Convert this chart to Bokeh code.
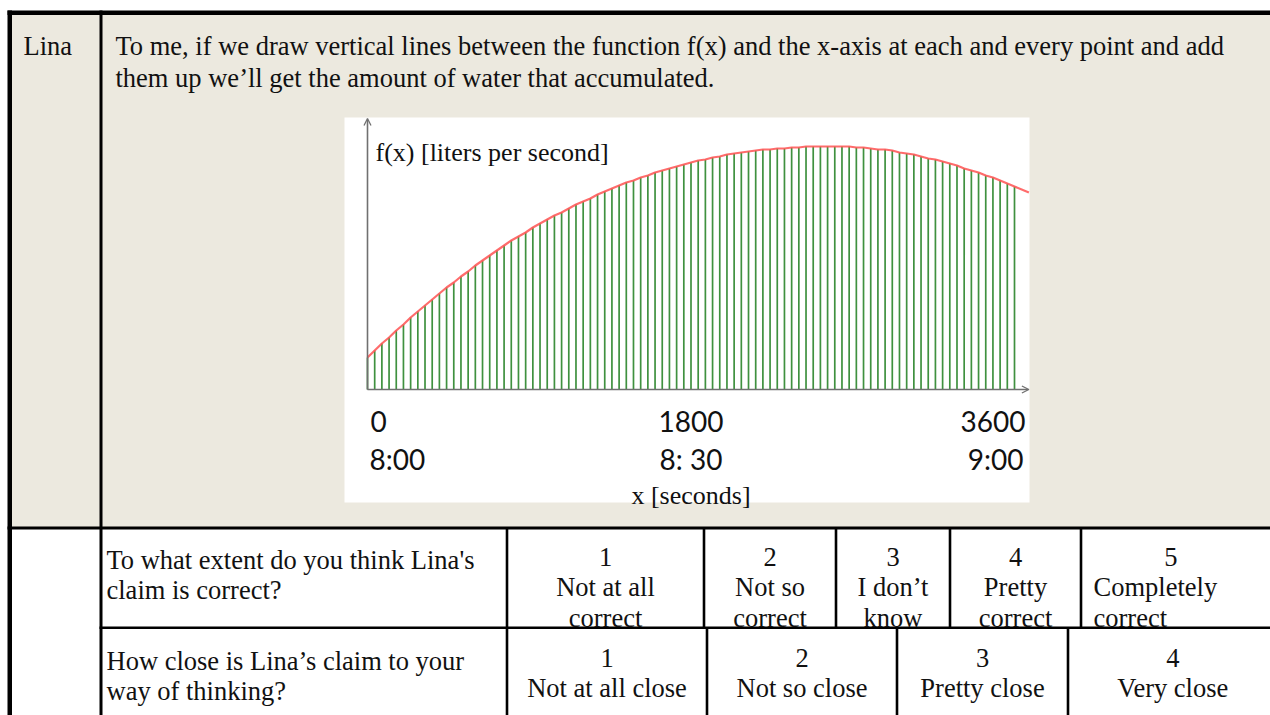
from bokeh.plotting import figure
from bokeh.models import Range1d, Arrow, OpenHead
from bokeh.core.properties import value
from bokeh.embed import file_html
from bokeh.resources import INLINE

# ---------------- data ----------------
sample_times = list(range(0, 3601, 40))          # one vertical line every 40 s
flow = [3.2, 3.9, 4.6, 5.2, 5.9, 6.5, 7.2, 7.8, 8.4, 9.0,
        9.6, 10.2, 10.7, 11.3, 11.8, 12.4, 12.9, 13.4, 13.9, 14.4,
        14.9, 15.3, 15.7, 16.2, 16.6, 17.0, 17.4, 17.7, 18.1, 18.5,
        18.8, 19.1, 19.5, 19.8, 20.1, 20.4, 20.7, 20.9, 21.2, 21.4,
        21.7, 21.9, 22.1, 22.3, 22.5, 22.7, 22.9, 23.0, 23.2, 23.3,
        23.5, 23.6, 23.7, 23.8, 23.9, 24.0, 24.0, 24.1, 24.1, 24.2,
        24.2, 24.3, 24.3, 24.3, 24.3, 24.3, 24.3, 24.3, 24.2, 24.2,
        24.1, 24.0, 24.0, 23.9, 23.7, 23.6, 23.5, 23.3, 23.1, 23.0,
        22.8, 22.6, 22.4, 22.1, 21.9, 21.7, 21.4, 21.2, 20.9, 20.6,
        20.3]
curve_times = sample_times + [3680]
curve_flow = flow + [19.7]

tick_values = [0, 1800, 3600]
tick_labels = ["0", "1800", "3600"]
clock_labels = ["8:00", "8: 30", "9:00"]
y_axis_label = "f(x) [liters per second]"
x_axis_label = "x [seconds]"

speaker = "Lina"
claim_lines = ["To me, if we draw vertical lines between the function f(x) and the x-axis at each and every point and add",
               "them up we\u2019ll get the amount of water that accumulated."]
q1_lines = ["To what extent do you think Lina's", "claim is correct?"]
q1_options = [["1", "Not at all", "correct"],
              ["2", "Not so", "correct"],
              ["3", "I don\u2019t", "know"],
              ["4", "Pretty", "correct"],
              ["5", "Completely", "correct"]]
q2_lines = ["How close is Lina\u2019s claim to your", "way of thinking?"]
q2_options = [["1", "Not at all close"],
              ["2", "Not so close"],
              ["3", "Pretty close"],
              ["4", "Very close"]]

# ---------------- layout (page pixels) ----------------
W, H = 1270, 715
SERIF = value("Liberation Serif")
SANS = value("Lato")
FS = "26.5px"
INK = "#111111"
BEIGE = "#ECE9DF"

p = figure(width=W, height=H, x_range=Range1d(0, W), y_range=Range1d(H, 0),
           output_backend="svg", toolbar_location=None, min_border=0,
           x_axis_location=None, y_axis_location=None, outline_line_color=None)
p.grid.visible = False
p.background_fill_color = "white"
p.border_fill_color = "white"

# chart scales
CH_X0, CH_X1, AXIS_Y, PX_PER_UNIT = 367, 1014, 389, 10.0
BOX = (344, 1029, 117, 502)
spp = 3600.0 / (CH_X1 - CH_X0)
p.extra_x_ranges = {"t": Range1d((0 - CH_X0) * spp, (W - CH_X0) * spp)}
p.extra_y_ranges = {"f": Range1d((AXIS_Y - H) / PX_PER_UNIT, AXIS_Y / PX_PER_UNIT)}

# backgrounds
p.quad(left=[11], right=[W], top=[13], bottom=[527], fill_color=BEIGE, line_color=None)
p.quad(left=[BOX[0]], right=[BOX[1]], top=[BOX[2]], bottom=[BOX[3]], fill_color="white", line_color=None)

# table borders
row1_div = [506.5, 703.5, 835.5, 949.5, 1080.5]
row2_div = [506.5, 706.5, 896.5, 1067.5]
L, R, T, B = [], [], [], []
def rect(l, r, t, b):
    L.append(l); R.append(r); T.append(t); B.append(b)
rect(7, W, 10, 14.5)                  # top border
rect(7, 11.5, 10, H)                  # left border
rect(99, 102, 10, H)                  # first column separator
rect(7, W, 526, 529)                  # bottom of claim row
rect(99, W, 626, 628.5)               # between question rows
for xd in row1_div:
    rect(xd - 1.3, xd + 1.3, 527, 628)
for xd in row2_div:
    rect(xd - 1.3, xd + 1.3, 627, H)
p.quad(left=L, right=R, top=T, bottom=B, fill_color="black", line_color=None)

# ---------------- embedded chart ----------------
axis_col = "#707070"
p.add_layout(Arrow(x_start=0, y_start=0, x_end=0, y_end=(AXIS_Y - BOX[2] - 1) / PX_PER_UNIT,
                   x_range_name="t", y_range_name="f", line_color=axis_col, line_width=1.6,
                   end=OpenHead(size=7, line_color=axis_col, line_width=1.3)))
p.add_layout(Arrow(x_start=0, y_start=0, x_end=3680, y_end=0,
                   x_range_name="t", y_range_name="f", line_color=axis_col, line_width=1.6,
                   end=OpenHead(size=7, line_color=axis_col, line_width=1.3)))
p.segment(x0=sample_times, y0=[0] * len(sample_times), x1=sample_times, y1=flow,
          x_range_name="t", y_range_name="f", line_color="#3f913f", line_width=1.7)
p.line(curve_times, curve_flow, x_range_name="t", y_range_name="f",
       line_color="#ff5252", line_width=2.2, line_alpha=0.85)

p.text(x=[0], y=[(AXIS_Y - 152) / PX_PER_UNIT], text=[y_axis_label], x_range_name="t", y_range_name="f",
       x_offset=8, text_font=SERIF, text_font_size="26px", text_color=INK, text_baseline="alphabetic")
aligns = ["left", "center", "right"]
tick_dx = [3, 0, 11]
clock_dx = [2, 0, 9]
for i in range(3):
    p.text(x=[tick_values[i]], y=[0], text=[tick_labels[i]], x_range_name="t", y_range_name="f",
           x_offset=tick_dx[i], y_offset=32, text_font=SANS, text_font_size="28px", text_color=INK,
           text_align=aligns[i], text_baseline="alphabetic")
    p.text(x=[tick_values[i]], y=[0], text=[clock_labels[i]], x_range_name="t", y_range_name="f",
           x_offset=clock_dx[i], y_offset=69, text_font=SANS, text_font_size="28px", text_color=INK,
           text_align=aligns[i], text_baseline="alphabetic")
p.text(x=[tick_values[1]], y=[0], text=[x_axis_label], x_range_name="t", y_range_name="f",
       y_offset=106, text_font=SERIF, text_font_size="26px", text_color=INK,
       text_align="center", text_baseline="alphabetic")

# ---------------- table texts ----------------
def txt(xs, ys, texts, align="left"):
    p.text(x=xs, y=ys, text=texts, text_font=SERIF, text_font_size=FS, text_color=INK,
           text_align=align, text_baseline="alphabetic")

txt([23], [45], [speaker])
txt([115, 115], [45, 77], claim_lines)

LS = 30.5
txt([106, 106], [559, 559 + LS], q1_lines)
txt([106, 106], [660, 660 + LS], q2_lines)

row1_right = row1_div[1:] + [1260]
for i, opt in enumerate(q1_options):
    cx = (row1_div[i] + row1_right[i]) / 2
    if i < 4:
        txt([cx] * 3, [556, 556 + LS, 556 + 2 * LS], opt, align="center")
    else:
        txt([cx], [556], [opt[0]], align="center")
        txt([1093, 1093], [556 + LS, 556 + 2 * LS], opt[1:])

row2_right = row2_div[1:] + [1277]
for i, opt in enumerate(q2_options):
    cx = (row2_div[i] + row2_right[i]) / 2
    txt([cx, cx], [657, 657 + LS], opt, align="center")

open("out.html", "w").write(file_html(p, INLINE))
